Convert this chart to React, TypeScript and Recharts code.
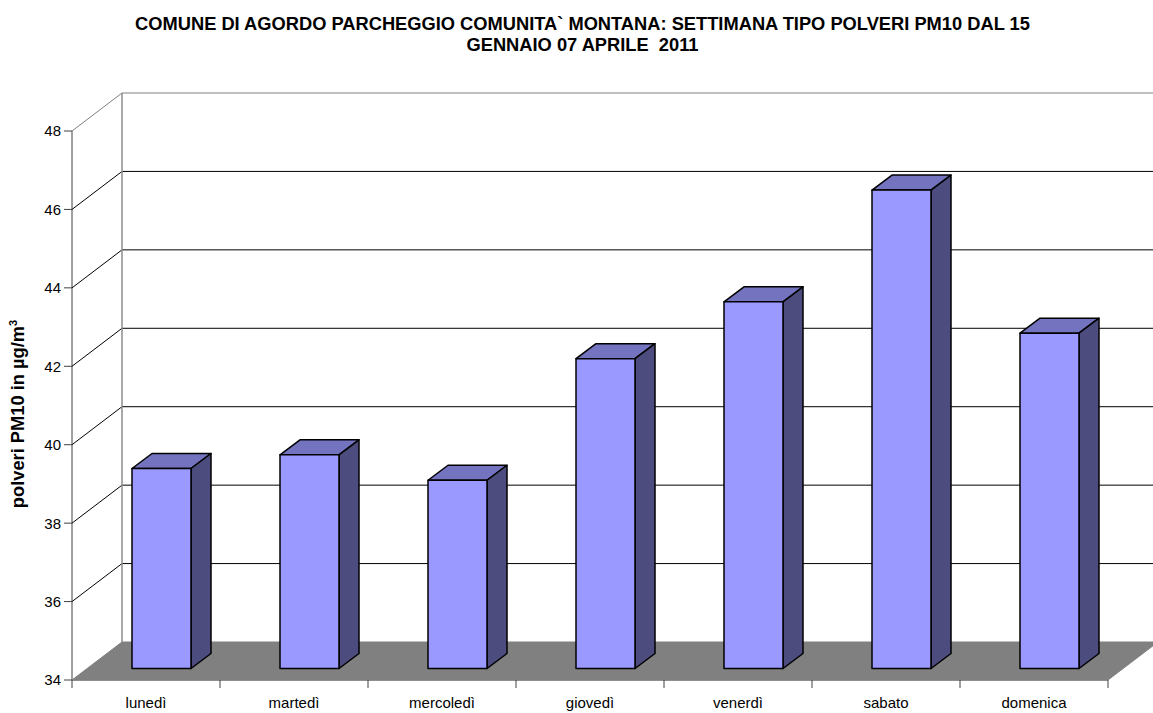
import { BarChart, Bar, XAxis, YAxis } from "recharts";

const days = ["lunedì", "martedì", "mercoledì", "giovedì", "venerdì", "sabato", "domenica"];
const pm10 = [39.1, 39.45, 38.8, 41.9, 43.35, 46.2, 42.55];
const yTicks = [34, 36, 38, 40, 42, 44, 46, 48];

const data = days.map((day, i) => ({ day, pm10: pm10[i] }));

// plot frame (front plane) and the fake 3d depth
const PLOT_LEFT = 72;
const PLOT_RIGHT = 1108;
const PLOT_BOTTOM = 680;
const SLOT = (PLOT_RIGHT - PLOT_LEFT) / days.length;
const DEPTH_X = 50;
const DEPTH_Y = -38;
const BAR_SHIFT_X = 15;
const BAR_SHIFT_Y = -11.5;
const BAR_DX = 20;
const BAR_DY = -15;

const W = 1153;
const H = 713;
const font = "'Liberation Sans', Arial, sans-serif";

const YTick = ({ y, payload }: any) => {
  const v = payload.value;
  const by = y + DEPTH_Y;
  const isTop = v === yTicks[yTicks.length - 1];
  const isBottom = v === yTicks[0];
  return (
    <g>
      {isBottom && (
        <polygon
          points={`${PLOT_LEFT},${y} ${PLOT_RIGHT},${y} ${PLOT_RIGHT + DEPTH_X},${by} ${PLOT_LEFT + DEPTH_X},${by}`}
          fill="#808080"
          stroke="#808080"
        />
      )}
      {isTop && (
        <line
          x1={PLOT_LEFT + DEPTH_X}
          y1={by}
          x2={PLOT_LEFT + DEPTH_X}
          y2={PLOT_BOTTOM + DEPTH_Y}
          stroke="#8c8c8c"
          strokeWidth={1.5}
        />
      )}
      {!isBottom && (
        <>
          <line x1={PLOT_LEFT} y1={y} x2={PLOT_LEFT + DEPTH_X} y2={by} stroke={isTop ? "#808080" : "#000"} />
          <line
            x1={PLOT_LEFT + DEPTH_X}
            y1={by}
            x2={PLOT_RIGHT + DEPTH_X}
            y2={by}
            stroke={isTop ? "#808080" : "#000"}
          />
        </>
      )}
      <line x1={PLOT_LEFT - 8} y1={y} x2={PLOT_LEFT} y2={y} stroke="#404040" />
      <text x={PLOT_LEFT - 11} y={y} dy="0.36em" textAnchor="end" fontSize={15} fontFamily={font} fill="#000">
        {v}
      </text>
    </g>
  );
};

const XTick = ({ x, payload, index }: any) => (
  <g>
    {index === 0 && (
      <line x1={x - SLOT / 2} y1={PLOT_BOTTOM} x2={x - SLOT / 2} y2={PLOT_BOTTOM + 8} stroke="#404040" />
    )}
    <line x1={x + SLOT / 2} y1={PLOT_BOTTOM} x2={x + SLOT / 2} y2={PLOT_BOTTOM + 8} stroke="#404040" />
    <text x={x} y={708} textAnchor="middle" fontSize={15} fontFamily={font} fill="#000">
      {payload.value}
    </text>
  </g>
);

const Box3D = ({ x, y, width, height }: any) => {
  const fx = x + BAR_SHIFT_X;
  const fy = y + BAR_SHIFT_Y;
  const w = width;
  const h = height;
  return (
    <g stroke="#000" strokeWidth={1.5} strokeLinejoin="round">
      <polygon
        points={`${fx},${fy} ${fx + BAR_DX},${fy + BAR_DY} ${fx + w + BAR_DX},${fy + BAR_DY} ${fx + w},${fy}`}
        fill="#7373BF"
      />
      <polygon
        points={`${fx + w},${fy} ${fx + w + BAR_DX},${fy + BAR_DY} ${fx + w + BAR_DX},${fy + h + BAR_DY} ${fx + w},${fy + h}`}
        fill="#4C4C7F"
      />
      <rect x={fx} y={fy} width={w} height={h} fill="#9999FF" />
    </g>
  );
};

const NoShape = () => null;

const layer = { position: "absolute" as const, left: 0, top: 0 };

export default function App() {
  return (
    <div style={{ position: "absolute", left: 0, top: 0, width: W, height: H, background: "#fff", fontFamily: font }}>
      <div
        style={{
          position: "absolute",
          left: 0,
          top: 13,
          width: 1165,
          textAlign: "center",
          fontWeight: "bold",
          fontSize: 18.3,
          lineHeight: "21px",
          color: "#000",
        }}
      >
        COMUNE DI AGORDO PARCHEGGIO COMUNITA` MONTANA: SETTIMANA TIPO POLVERI PM10 DAL 15
        <br />
        GENNAIO 07 APRILE&nbsp; 2011
      </div>
      <div
        style={{
          position: "absolute",
          left: 18,
          top: 414,
          transform: "translate(-50%, -50%) rotate(-90deg)",
          whiteSpace: "nowrap",
          fontWeight: "bold",
          fontSize: 18.3,
          color: "#000",
        }}
      >
        polveri PM10 in µg/m<sup style={{ fontSize: 11 }}>3</sup>
      </div>

      {/* walls, floor, grid and axes */}
      <div style={layer}>
        <BarChart width={W} height={H} data={data} margin={{ top: 131, right: 45, bottom: 0, left: 12 }}>
          <YAxis
            domain={[34, 48]}
            ticks={yTicks}
            interval={0}
            width={60}
            tickLine={false}
            axisLine={{ stroke: "#404040" }}
            tick={<YTick />}
          />
          <XAxis
            dataKey="day"
            interval={0}
            height={33}
            tickLine={false}
            axisLine={{ stroke: "#404040" }}
            tick={<XTick />}
          />
          <Bar dataKey="pm10" barSize={59} isAnimationActive={false} shape={<NoShape />} />
        </BarChart>
      </div>

      {/* 3d bars on top, same scales */}
      <div style={layer}>
        <BarChart width={W} height={H} data={data} margin={{ top: 131, right: 45, bottom: 0, left: 12 }}>
          <YAxis domain={[34, 48]} ticks={yTicks} width={60} tick={false} axisLine={false} tickLine={false} />
          <XAxis dataKey="day" height={33} tick={false} axisLine={false} tickLine={false} />
          <Bar dataKey="pm10" barSize={59} isAnimationActive={false} shape={<Box3D />} />
        </BarChart>
      </div>
    </div>
  );
}
